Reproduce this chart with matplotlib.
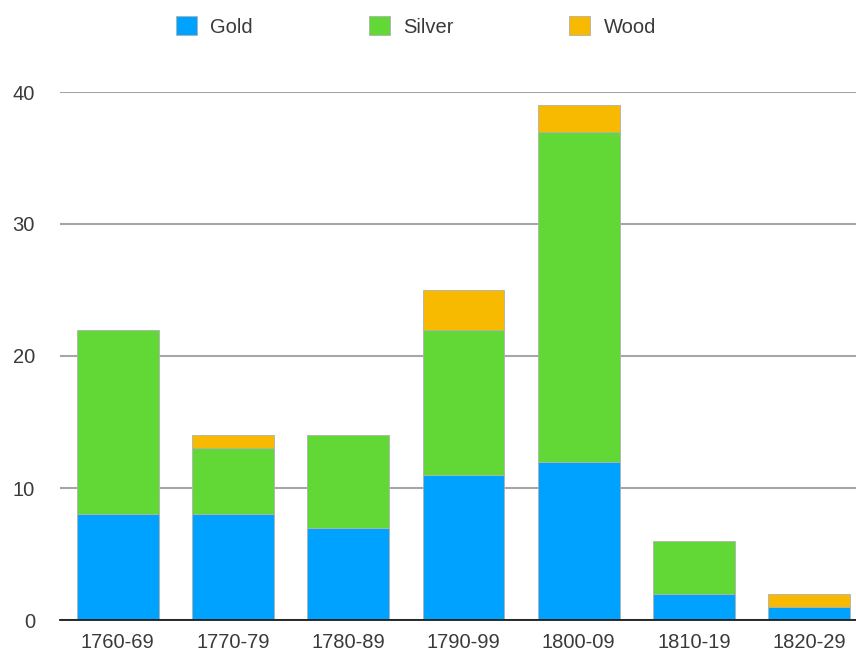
import matplotlib
matplotlib.use("Agg")
import matplotlib.pyplot as plt
import numpy as np

decades = ["1760-69", "1770-79", "1780-89", "1790-99", "1800-09", "1810-19", "1820-29"]
gold = [8, 8, 7, 11, 12, 2, 1]
silver = [14, 5, 7, 11, 25, 4, 0]
wood = [0, 1, 0, 3, 2, 0, 1]

series = [("Gold", gold, "#00A2FF"), ("Silver", silver, "#61D836"), ("Wood", wood, "#F8BA00")]

plt.rcParams["font.family"] = ["Liberation Sans", "DejaVu Sans"]
FS = 14.5
TXT = "#3a3a3a"

fig = plt.figure(figsize=(8.56, 6.52), dpi=100)
# plot area runs slightly past the right edge of the canvas
ax = fig.add_axes([60 / 856, 1 - 620 / 652, 807 / 856, (620 - 92) / 652])

x = np.arange(len(decades))
bottom = np.zeros(len(decades))
handles = []
for name, vals, color in series:
    vals = np.array(vals, dtype=float)
    mask = vals > 0
    h = ax.bar(x[mask], vals[mask], bottom=bottom[mask], width=0.71, color=color,
               edgecolor="#b0b0b0", linewidth=0.6, label=name, zorder=3)
    handles.append(h)
    bottom += vals

ax.set_xlim(-0.5, len(decades) - 0.5)
ax.set_ylim(0, 40)
ax.set_yticks([0, 10, 20, 30, 40])
ax.set_xticks(x)
ax.set_xticklabels(decades)
ax.yaxis.grid(True, color="#a6a6a6", linewidth=1.5, zorder=0)
ax.set_axisbelow(True)
for side in ("top", "right", "left"):
    ax.spines[side].set_visible(False)
ax.spines["bottom"].set_color("#1a1a1a")
ax.spines["bottom"].set_linewidth(1.3)
ax.spines["bottom"].set_zorder(4)
ax.tick_params(axis="both", length=0, labelsize=FS, colors=TXT)
ax.tick_params(axis="y", pad=18)
ax.tick_params(axis="x", pad=9)

fig.legend(handles=handles, loc="upper left", bbox_to_anchor=(176 / 856, 1 - 16 / 652),
           ncol=3, frameon=False, fontsize=FS, handlelength=1.05, handleheight=1.1,
           handletextpad=0.65, columnspacing=5.75, labelcolor=TXT, borderpad=0,
           borderaxespad=0)

fig.savefig("out.png", dpi=100)
